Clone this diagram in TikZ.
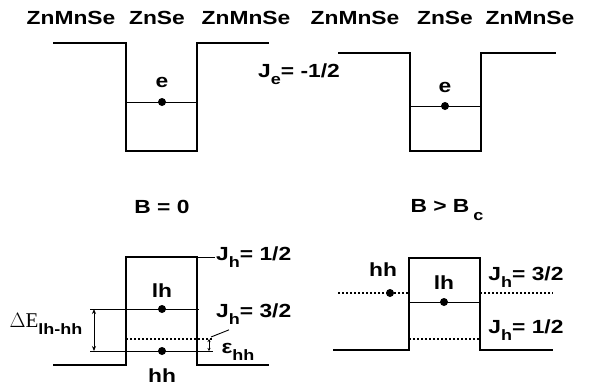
\documentclass[tikz,border=0pt]{standalone}
\usepackage{fontspec}
\setmainfont{Liberation Sans}[FakeStretch=1.2]
\newfontfamily\seriffont{Liberation Serif}
\usetikzlibrary{positioning,arrows.meta}
\newcommand{\lowsub}[1]{\raisebox{-0.75ex}{\fontsize{15}{15}\selectfont #1}}

\begin{document}
\begin{tikzpicture}[x=1pt,y=-1pt,>={Stealth[length=5pt,width=4pt]},
  font=\fontsize{19}{23}\selectfont\bfseries,
  barrier/.style={line width=2.4pt},
  level/.style={line width=0.9pt},
  dotlevel/.style={line width=1.3pt,dash pattern=on 2pt off 2pt},
  carrier/.style={circle,fill,inner sep=0pt,minimum size=8pt},
  lbl/.style={inner sep=1pt}]
  \useasboundingbox (0,0) rectangle (593,389);

  % material labels
  \node[lbl] (ml1) at (71,18)  {ZnMnSe};
  \node[lbl] (ms1) at (157,18) {ZnSe};
  \node[lbl] (mr1) at (246,18) {ZnMnSe};
  \node[lbl] (ml2) at (355,18) {ZnMnSe};
  \node[lbl] (ms2) at (445,18) {ZnSe};
  \node[lbl] (mr2) at (530,18) {ZnMnSe};

  % conduction band, B = 0
  \draw[barrier] (53,43) -- (126,43) -- (126,151) -- (197,151) -- (197,43) -- (269,43);
  \draw[level] (126,102) -- (197,102);
  \node[carrier] (e1) at (162,102) {};
  \node[lbl] (e1l) at (162,82) {e};

  % conduction band, B > Bc
  \draw[barrier] (338,53) -- (410,53) -- (410,151) -- (481,151) -- (481,53) -- (556,53);
  \draw[level] (410,106) -- (481,106);
  \node[carrier] (e2) at (445,106) {};
  \node[lbl] (e2l) at (445,87) {e};

  \node[lbl] (je) at (299,74) {J\lowsub{e}= -1/2};

  % field labels
  \node[lbl] (b0) at (162,207) {B = 0};
  \node[lbl] (bc) at (447,210) {B > B\lowsub{\hspace{4pt}c}};

  % valence band, B = 0
  \draw[barrier] (53,365) -- (126,365) -- (126,257) -- (197,257) -- (197,365) -- (269,365);
  \coordinate (lhL) at (90,309);
  \coordinate (hhL) at (90,351);
  \draw[level] (lhL) -- (199,309);
  \draw[level] (hhL) -- (213,351);
  \draw[dotlevel] (126,339) -- (213,339);
  \node[carrier] (lh1) at (162,309) {};
  \node[carrier] (hh1) at (162,351) {};
  \node[lbl] (lh1l) at (162,291) {lh};
  \node[lbl] (hh1l) at (162,376) {hh};
  \coordinate (dEt) at (94,309);
  \coordinate (dEb) at (94,351);
  \draw[<->,level] (dEt) -- (dEb);
  \node[lbl] (dE) at (46,324) {{\seriffont\mdseries\fontsize{21}{25}\selectfont$\Delta$E}\lowsub{lh-hh}};
  \coordinate (ept) at (209,339);
  \coordinate (epb) at (209,351);
  \draw[<->,line width=0.7pt,>={Stealth[length=3pt,width=3pt]}] (ept) -- (epb);
  \node[lbl] (eps) at (238,352) {ε\lowsub{hh}};
  \node[lbl,anchor=west] (jh1) at (215,257) {J\lowsub{h}= 1/2};
  \draw[level] (197,257) -- (jh1.west);
  \node[lbl,anchor=west] (jh3) at (215,314) {J\lowsub{h}= 3/2};
  \coordinate (jh3t) at (211,337);
  \draw[level] ([xshift=14pt,yshift=-4pt]jh3.south west) -- (jh3t);

  % valence band, B > Bc
  \draw[barrier] (333,350) -- (409,350) -- (409,258) -- (480,258) -- (480,350) -- (553,350);
  \draw[dotlevel] (338,293) -- (409,293);
  \draw[dotlevel] (480,293) -- (553,293);
  \draw[dotlevel] (409,339) -- (480,339);
  \draw[level] (409,302) -- (480,302);
  \node[carrier] (hh2) at (390,293) {};
  \node[carrier] (lh2) at (444,302) {};
  \node[lbl] (hh2l) at (383,270) {hh};
  \node[lbl] (lh2l) at (444,283) {lh};
  \node[lbl] (jh3b) at (526,277) {J\lowsub{h}= 3/2};
  \node[lbl] (jh1b) at (526,330) {J\lowsub{h}= 1/2};
\end{tikzpicture}
\end{document}
